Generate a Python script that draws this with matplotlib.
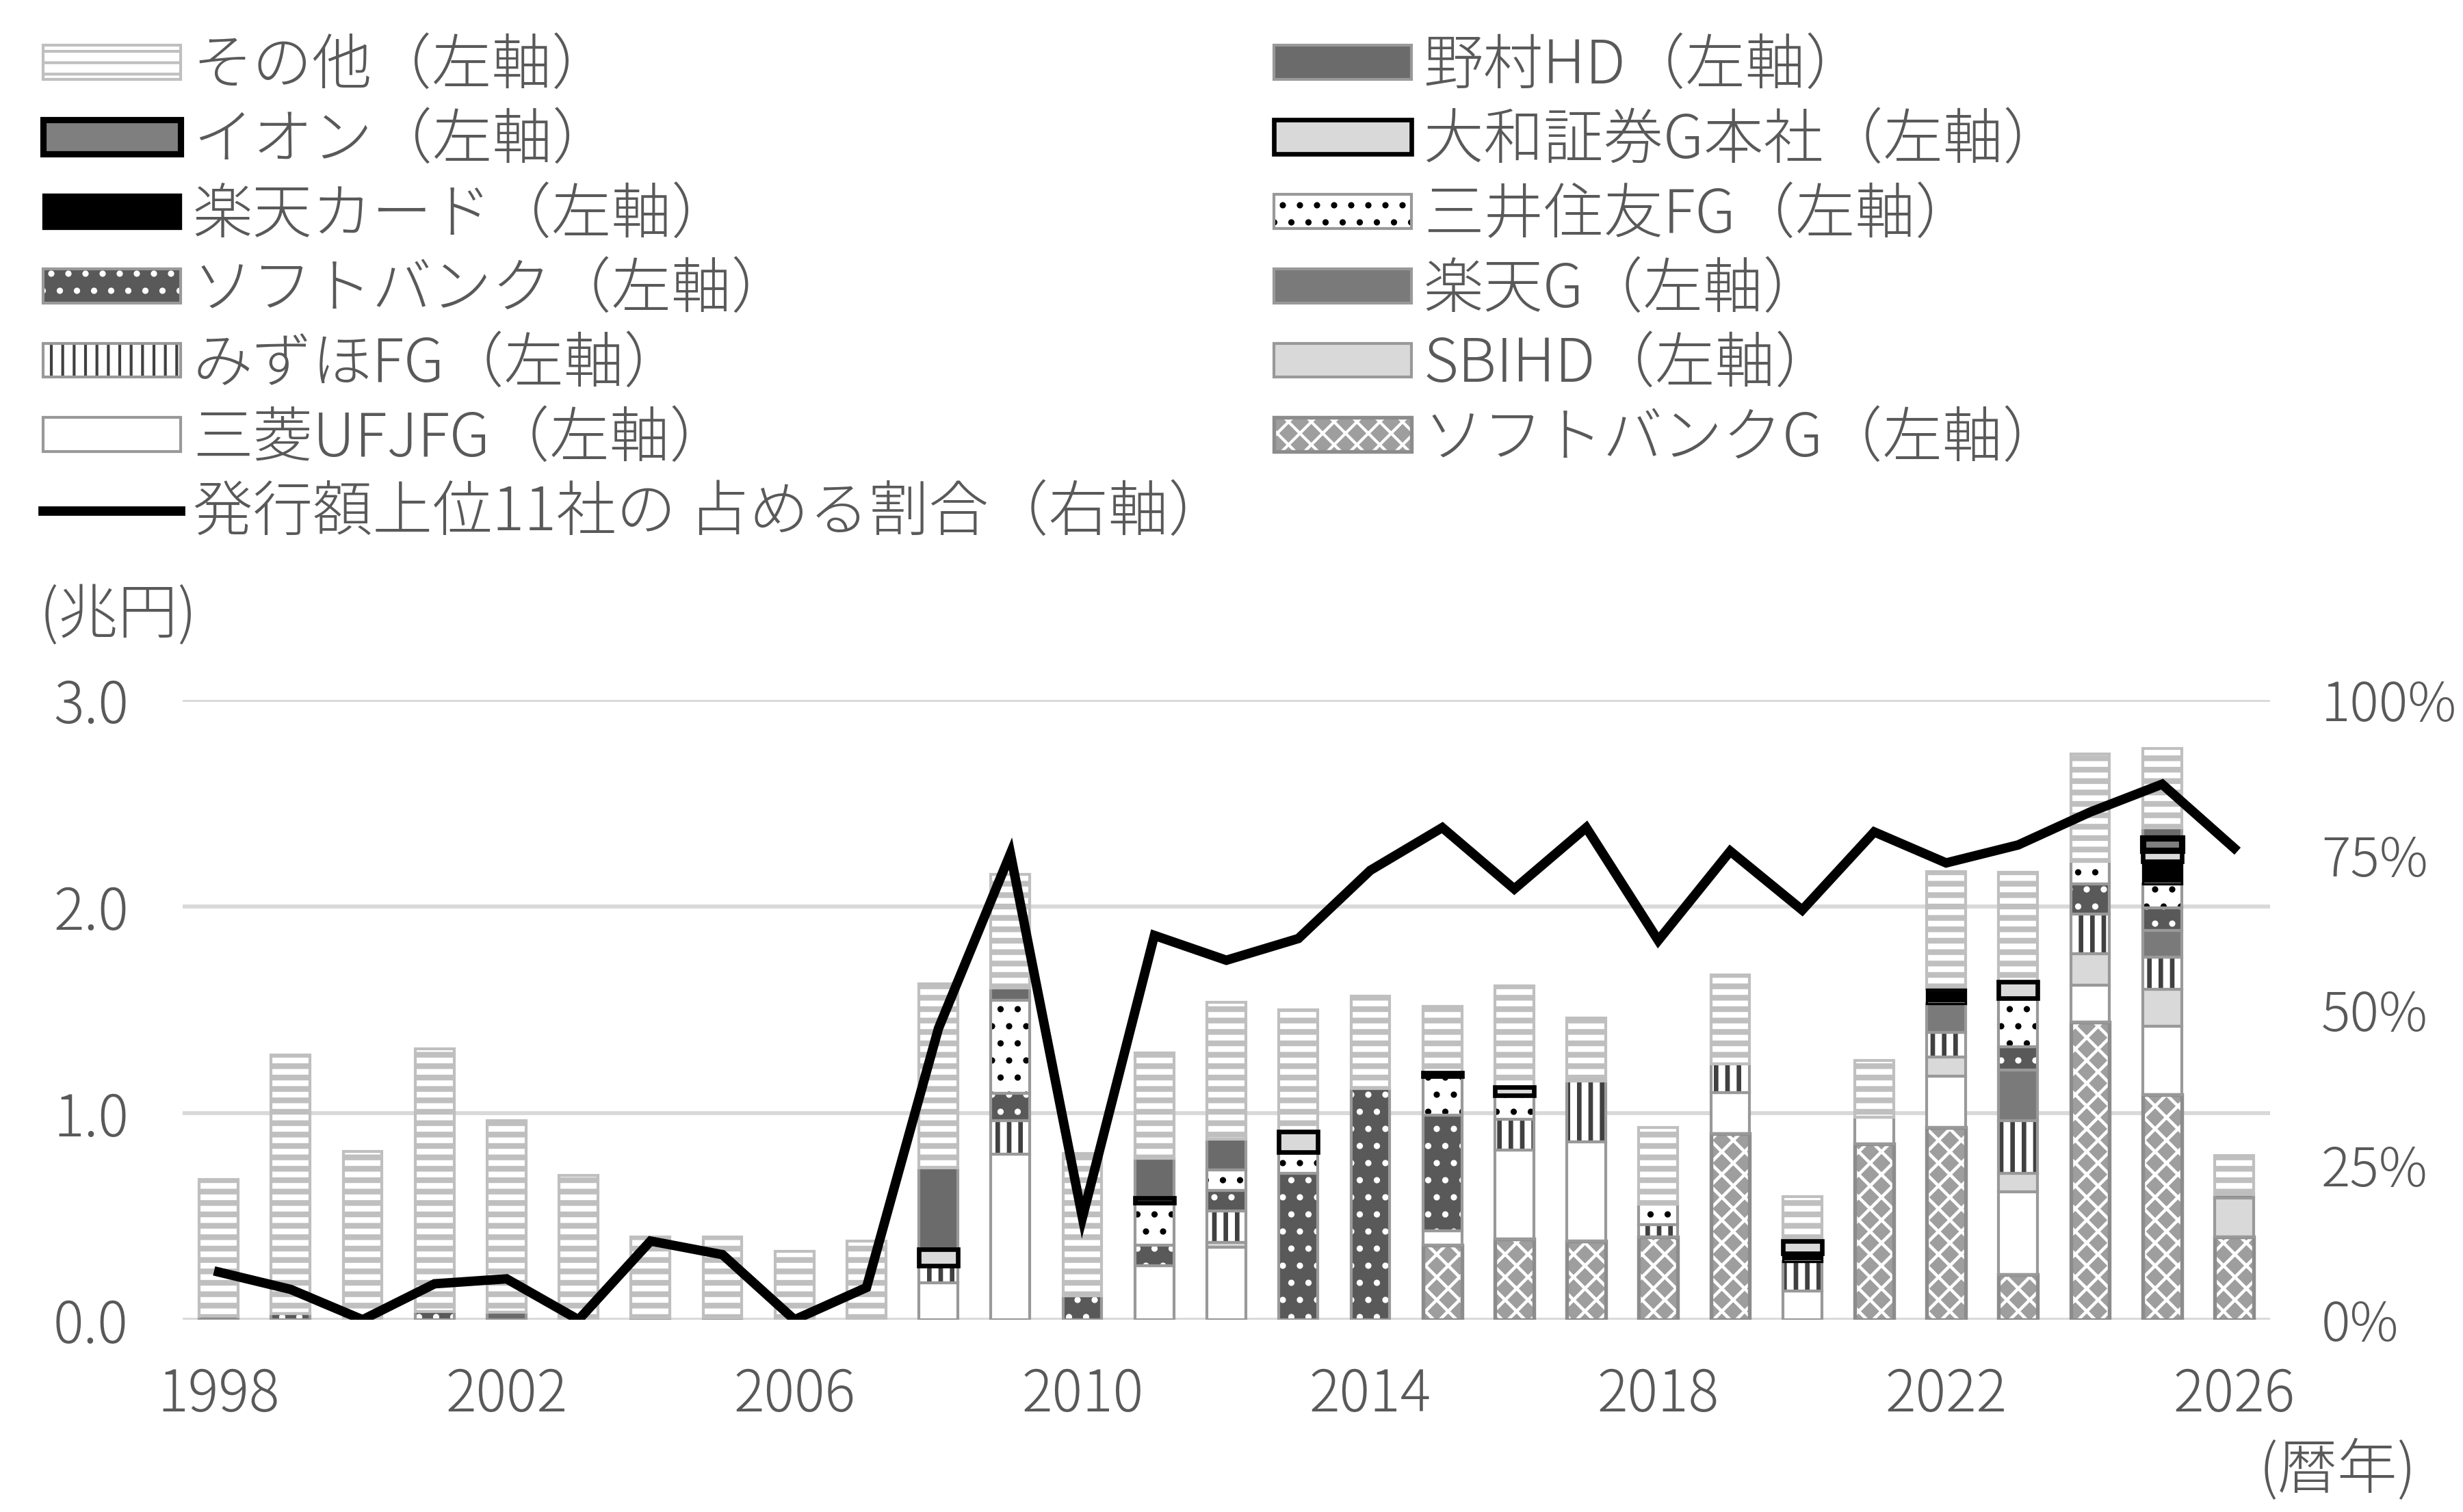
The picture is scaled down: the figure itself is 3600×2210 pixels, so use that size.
import matplotlib
matplotlib.use('Agg')
import matplotlib.pyplot as plt
import numpy as np
from matplotlib.patches import Patch
from matplotlib.lines import Line2D
from matplotlib.legend_handler import HandlerTuple

plt.rcParams['font.family'] = ['Noto Sans CJK JP', 'DejaVu Sans']
plt.rcParams['font.weight'] = 'light'

# ---------------- data ----------------
years = list(range(1998, 2027))

softbank_g   = [0]*17 + [0.36, 0.39, 0.38, 0.40, 0.90, 0, 0.85, 0.93, 0.22, 1.44, 1.09, 0.40]
mufg         = [0]*10 + [0.18, 0.80, 0, 0.26, 0.35, 0, 0, 0.07, 0.43, 0.48, 0, 0.20, 0.14, 0.13, 0.25, 0.40, 0.18, 0.33, 0]
sbi_hd       = [0]*14 + [0.025, 0, 0, 0, 0, 0, 0, 0, 0, 0, 0.09, 0.09, 0.15, 0.18, 0.19]
mizuho       = [0]*10 + [0.08, 0.165, 0, 0, 0.15, 0, 0, 0, 0.15, 0.295, 0.06, 0.14, 0.14, 0, 0.12, 0.255, 0.195, 0.155, 0]
rakuten_g    = [0]*24 + [0.14, 0.245, 0, 0.13, 0.015]
softbank     = [0, 0.03, 0, 0.04, 0, 0, 0, 0.01, 0, 0, 0, 0.13, 0.115, 0.10, 0.10, 0.71, 1.12, 0.56, 0, 0, 0, 0, 0, 0, 0, 0.11, 0.145, 0.11, 0]
smfg         = [0]*11 + [0.45, 0, 0.205, 0.10, 0.10, 0, 0.19, 0.115, 0, 0.10, 0, 0, 0, 0, 0.235, 0.11, 0.115, 0]
rakuten_card = [0]*22 + [0.04, 0, 0.07, 0, 0, 0.11, 0]
daiwa        = [0]*10 + [0.08, 0, 0, 0.025, 0, 0.10, 0, 0.015, 0.04, 0, 0, 0, 0.06, 0, 0, 0.08, 0, 0.05, 0]
aeon         = [0]*27 + [0.06, 0]
nomura       = [0.015, 0, 0, 0, 0.035, 0, 0.01, 0, 0, 0, 0.395, 0.06, 0, 0.19, 0.15, 0, 0, 0, 0, 0, 0, 0, 0, 0, 0, 0, 0, 0.05, 0]
others       = [0.665, 1.25, 0.815, 1.27, 0.93, 0.70, 0.39, 0.39, 0.33, 0.38, 0.89, 0.55, 0.69, 0.51, 0.66,
                0.59, 0.445, 0.32, 0.49, 0.305, 0.37, 0.43, 0.215, 0.275, 0.57, 0.53, 0.52, 0.385, 0.19]
top11_share  = [7.7, 4.9, 0, 5.8, 6.6, 0, 12.7, 10.5, 0, 5.2, 47, 75.2, 16.5, 62, 58, 61.5, 72.5, 79.4, 69.5,
                79.4, 61.2, 75.6, 66.1, 78.7, 73.7, 76.6, 81.9, 86.4, 76.1]

labels = {
    'others': 'その他（左軸）', 'aeon': 'イオン（左軸）', 'rakuten_card': '楽天カード（左軸）',
    'softbank': 'ソフトバンク（左軸）', 'mizuho': 'みずほFG（左軸）', 'mufg': '三菱UFJFG（左軸）',
    'nomura': '野村HD（左軸）', 'daiwa': '大和証券G本社（左軸）', 'smfg': '三井住友FG（左軸）',
    'rakuten_g': '楽天G（左軸）', 'sbi_hd': 'SBIHD（左軸）', 'softbank_g': 'ソフトバンクG（左軸）',
}
line_label = '発行額上位11社の 占める割合（右軸）'

data = {
    'softbank_g': softbank_g, 'mufg': mufg, 'sbi_hd': sbi_hd, 'mizuho': mizuho,
    'rakuten_g': rakuten_g, 'softbank': softbank, 'smfg': smfg, 'rakuten_card': rakuten_card,
    'daiwa': daiwa, 'aeon': aeon, 'nomura': nomura, 'others': others,
}
stack_order = ['softbank_g', 'mufg', 'sbi_hd', 'mizuho', 'rakuten_g', 'softbank', 'smfg',
               'rakuten_card', 'daiwa', 'aeon', 'nomura', 'others']

# ---------------- styles ----------------
EG = '#999999'
styles = {
    'others':       dict(fc='white',   hatch='---', hc='#bfbfbf', hlw=2.0, ec='#bfbfbf', elw=1.0),
    'aeon':         dict(fc='#7f7f7f', hatch=None,  hc='#7f7f7f', hlw=1.0, ec='black',   elw=2.2),
    'rakuten_card': dict(fc='black',   hatch=None,  hc='black',   hlw=1.0, ec='black',   elw=0.8),
    'softbank':     dict(fc='#595959', hatch='..',  hc='white',   hlw=1.0, ec=EG,        elw=1.0),
    'mizuho':       dict(fc='white',   hatch='|||', hc='#404040', hlw=1.6, ec=EG,        elw=1.0),
    'mufg':         dict(fc='white',   hatch=None,  hc='white',   hlw=1.0, ec=EG,        elw=1.0),
    'nomura':       dict(fc='#6b6b6b', hatch=None,  hc='#6b6b6b', hlw=1.0, ec=EG,        elw=1.0),
    'daiwa':        dict(fc='#d9d9d9', hatch=None,  hc='#d9d9d9', hlw=1.0, ec='black',   elw=1.6),
    'smfg':         dict(fc='white',   hatch='..',  hc='black',   hlw=1.0, ec=EG,        elw=1.0),
    'rakuten_g':    dict(fc='#7a7a7a', hatch=None,  hc='#7a7a7a', hlw=1.0, ec=EG,        elw=1.0),
    'sbi_hd':       dict(fc='#d9d9d9', hatch=None,  hc='#d9d9d9', hlw=1.0, ec=EG,        elw=1.0),
    'softbank_g':   dict(fc='#9e9e9e', hatch='xxx', hc='white',   hlw=1.1, ec='#8c8c8c', elw=1.3),
}

TXT = '#595959'
FS = 21
FS_T = 19
W = 0.54

fig = plt.figure(figsize=(12, 2210/300), dpi=300)
ax = fig.add_axes([267/3600, 1-1929/2210, (3318-267)/3600, (1929-1023)/2210])

def set_hlw(artists, lw):
    for a in artists:
        if hasattr(a, 'set_hatch_linewidth'):
            a.set_hatch_linewidth(lw)

x = np.array(years, dtype=float)
bottom = np.zeros(len(years))
outlines = []
for name in stack_order:
    v = np.array(data[name], dtype=float)
    st = styles[name]
    m = v > 0
    with plt.rc_context({'hatch.linewidth': st['hlw']}):
        bars = ax.bar(x[m], v[m], bottom=bottom[m], width=W, color=st['fc'],
                      edgecolor=st['hc'], hatch=st['hatch'], linewidth=0, zorder=2)
        set_hlw(bars.patches, st['hlw'])
    outlines.append((x[m], v[m], bottom[m].copy(), st))
    bottom += v

for xx, vv, bb, st in outlines:
    if st['ec'] != 'black':
        ax.bar(xx, vv, bottom=bb, width=W, facecolor='none', edgecolor=st['ec'],
               linewidth=st['elw'], zorder=3)
for xx, vv, bb, st in outlines:
    if st['ec'] == 'black':
        ax.bar(xx, vv, bottom=bb, width=W, facecolor='none', edgecolor=st['ec'],
               linewidth=st['elw'], zorder=4)

ax.set_xlim(1997.5, 2026.5)
ax.set_ylim(0, 3)
ax.set_yticks([0, 1, 2, 3])
ax.yaxis.set_major_formatter(matplotlib.ticker.FuncFormatter(lambda v, p: f'{v:.1f}'))
ax.set_xticks(list(range(1998, 2027, 4)))
ax.grid(axis='y', color='#d9d9d9', linewidth=1.4, zorder=0)
ax.set_axisbelow(True)
ax.tick_params(axis='y', length=0, labelsize=FS_T + 1, labelcolor=TXT, pad=19)
ax.tick_params(axis='x', length=0, labelsize=FS_T + 1, labelcolor=TXT, pad=16)
for s in ax.spines.values():
    s.set_visible(False)

ax2 = ax.twinx()
ax2.plot(years, top11_share, color='black', linewidth=3.3, solid_joinstyle='miter', zorder=5)
ax2.set_ylim(0, 100)
ax2.set_yticks([0, 25, 50, 75, 100])
ax2.yaxis.set_major_formatter(matplotlib.ticker.FuncFormatter(lambda v, p: f'{v:.0f}%'))
ax2.tick_params(axis='y', length=0, labelsize=FS_T, labelcolor=TXT, pad=18)
for s in ax2.spines.values():
    s.set_visible(False)

fig.text(58/3600, 1-900/2210, '(兆円)', fontsize=FS, color=TXT, ha='left', va='center')
fig.text(3532/3600, 1-2150/2210, '(暦年)', fontsize=FS, color=TXT, ha='right', va='center')

# ---------------- legend ----------------
def proxy(name):
    st = styles[name]
    with plt.rc_context({'hatch.linewidth': st['hlw']}):
        p1 = Patch(facecolor=st['fc'], edgecolor=st['hc'], hatch=st['hatch'], linewidth=0)
        set_hlw([p1], st['hlw'])
    p2 = Patch(facecolor='none', edgecolor=st['ec'], linewidth=st['elw'])
    return (p1, p2)

left_names = ['others', 'aeon', 'rakuten_card', 'softbank', 'mizuho', 'mufg']
right_names = ['nomura', 'daiwa', 'smfg', 'rakuten_g', 'sbi_hd', 'softbank_g']

h1 = [proxy(n) for n in left_names] + [Line2D([], [], color='black', linewidth=3.3)]
l1 = [labels[n] for n in left_names] + [line_label]
h2 = [proxy(n) for n in right_names]
l2 = [labels[n] for n in right_names]

common = dict(loc='upper left', frameon=False, prop=dict(size=FS, weight='light'),
              handlelength=2.3, handleheight=0.5,
              handletextpad=0.2, labelspacing=0.21, borderpad=0, borderaxespad=0,
              handler_map={tuple: HandlerTuple(ndivide=1, pad=0)}, labelcolor=TXT)
fig.legend(h1, l1, bbox_to_anchor=(63/3600, 1-52/2210), **common)
fig.legend(h2, l2, bbox_to_anchor=(1862/3600, 1-52/2210), **common)

fig.savefig('out.png', dpi=300)
